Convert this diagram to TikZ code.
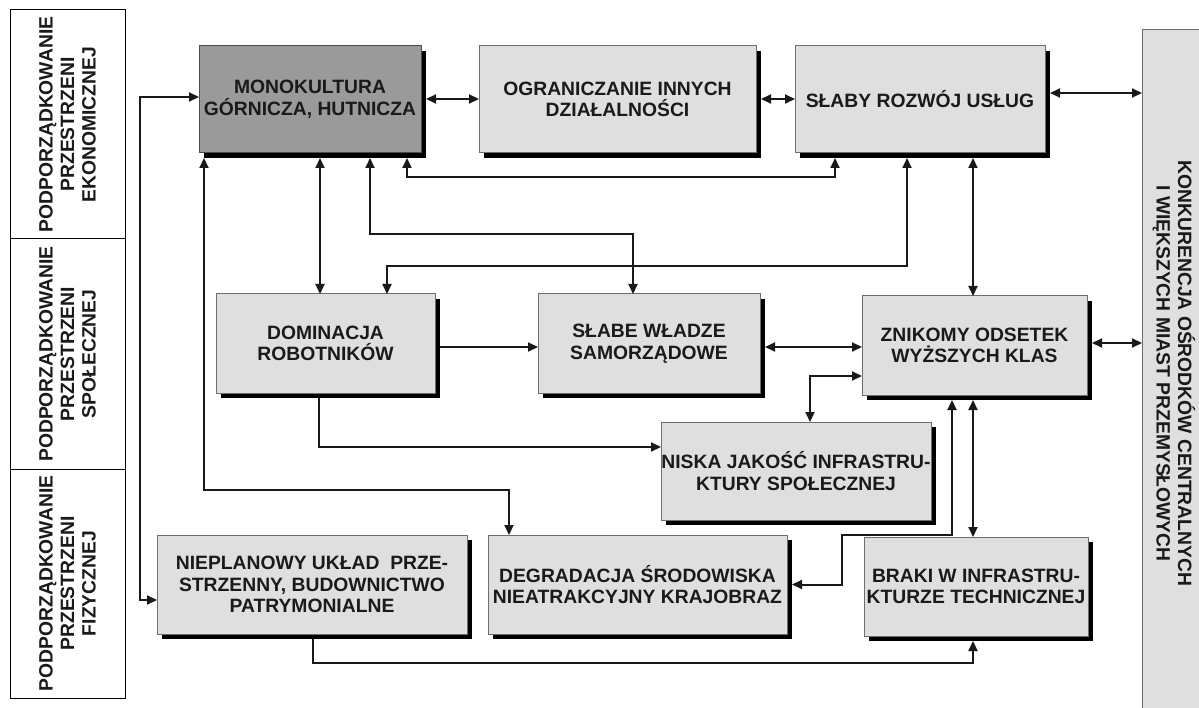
\documentclass[tikz,border=0pt]{standalone}
\usepackage{fontspec}
\setmainfont{Liberation Sans}
\usetikzlibrary{arrows.meta,shadows,calc}
\definecolor{boxgray}{HTML}{DFDFDF}
\definecolor{darkbox}{HTML}{9A9A9A}
\definecolor{edgegray}{HTML}{6E6E6E}
\definecolor{txt}{HTML}{1A1A1A}
\tikzset{
  every node/.style={inner sep=0pt,outer sep=0pt,align=center,text=txt,
    font=\fontsize{19.3}{21.5}\selectfont\bfseries},
  cbox/.style={draw=edgegray,line width=1pt,fill=boxgray,
    drop shadow={shadow xshift=5pt,shadow yshift=-5pt,fill=black,opacity=1}},
  dbox/.style={cbox,fill=darkbox,draw=black!70},
  lbox/.style={draw=black,line width=1pt,fill=white},
  conn/.style={line width=2pt,draw=black!90},
  >={Triangle[length=10pt,width=9pt]}
}
\begin{document}
\begin{tikzpicture}[x=1pt,y=-1pt]
\useasboundingbox (0,0) rectangle (1199,708);
% left column
\node[lbox,minimum width=115pt,minimum height=229pt] (l1) at (67.5,124.5) {};
\node[lbox,minimum width=115pt,minimum height=230pt] (l2) at (67.5,354) {};
\node[lbox,minimum width=115pt,minimum height=229pt] (l3) at (67.5,583.5) {};
\node[rotate=90] (l1t) at (l1.center) {PODPORZĄDKOWANIE\\PRZESTRZENI\\EKONOMICZNEJ};
\node[rotate=90] (l2t) at (l2.center) {PODPORZĄDKOWANIE\\PRZESTRZENI\\SPOŁECZNEJ};
\node[rotate=90] (l3t) at (l3.center) {PODPORZĄDKOWANIE\\PRZESTRZENI\\FIZYCZNEJ};
% right tall box
\node[draw=edgegray,line width=1pt,fill=boxgray,minimum width=62pt,minimum height=684pt] (konk) at (1173,372) {};
\node[rotate=-90] (konkt) at (1174,373.5) {KONKURENCJA OŚRODKÓW CENTRALNYCH\\I WIĘKSZYCH MIAST PRZEMYSŁOWYCH};
% main boxes
\node[dbox,minimum width=222pt,minimum height=107pt] (mono) at (310,99.5) {MONOKULTURA\\GÓRNICZA, HUTNICZA};
\node[cbox,minimum width=277pt,minimum height=107pt] (ogr) at (617.5,99.5) {OGRANICZANIE INNYCH\\DZIAŁALNOŚCI};
\node[cbox,minimum width=250pt,minimum height=107pt] (usl) at (920,99.5) {SŁABY ROZWÓJ USŁUG};
\node[cbox,minimum width=219pt,minimum height=99pt] (domi) at (325.5,343.5) {DOMINACJA\\ROBOTNIKÓW};
\node[cbox,minimum width=222pt,minimum height=99pt] (slabe) at (649,343.5) {SŁABE WŁADZE\\SAMORZĄDOWE};
\node[cbox,minimum width=225pt,minimum height=99pt] (znik) at (974.5,345.5) {ZNIKOMY ODSETEK\\WYŻSZYCH KLAS};
\node[cbox,minimum width=270pt,minimum height=98pt] (nisk) at (796,471) {NISKA JAKOŚĆ INFRASTRU-\\KTURY SPOŁECZNEJ};
\node[cbox,minimum width=310pt,minimum height=99pt] (niep) at (312,584.5) {NIEPLANOWY UKŁAD\ \ PRZE-\\STRZENNY, BUDOWNICTWO\\PATRYMONIALNE};
\node[cbox,minimum width=299pt,minimum height=99pt] (degr) at (637.5,584.5) {DEGRADACJA ŚRODOWISKA\\NIEATRAKCYJNY KRAJOBRAZ};
\node[cbox,minimum width=224pt,minimum height=99pt] (brak) at (976,586.5) {BRAKI W INFRASTRU-\\KTURZE TECHNICZNEJ};
% connectors
\draw[conn,<->] ([yshift=2.5pt]mono.west) -| (140,600) -- ([yshift=-15.5pt]niep.west);
\draw[conn,<->] ([xshift=5pt,yshift=0.5pt]mono.east) -- ([yshift=0.5pt]ogr.west);
\draw[conn,<->] ([xshift=5pt,yshift=0.5pt]ogr.east) -- ([yshift=0.5pt]usl.west);
\coordinate (a4) at ([xshift=5pt,yshift=6.5pt]usl.east);
\draw[conn,<->] (a4) -- (a4 -| konk.west);
\draw[conn,<->] ([xshift=97pt,yshift=-5pt]mono.south) -- ++(0,19) -| ([xshift=-85pt,yshift=-5pt]usl.south);
\draw[conn,<->] ([xshift=60pt,yshift=-5pt]mono.south) -- ++(0,76) -| ([xshift=-16pt]slabe.north);
\draw[conn,<->] ([xshift=10pt,yshift=-5pt]mono.south) -- ([xshift=-5.5pt]domi.north);
\draw[conn,<->] ([xshift=-106pt,yshift=-5pt]mono.south) -- ++(0,332) -| ([xshift=-128.5pt]degr.north);
\draw[conn,<->] ([xshift=-13pt,yshift=-5pt]usl.south) -- ++(0,108) -| ([xshift=61.5pt]domi.north);
\draw[conn,<->] ([xshift=53pt,yshift=-5pt]usl.south) -- ([xshift=-1.5pt]znik.north);
\draw[conn,->] ([xshift=5pt,yshift=-3.5pt]domi.east) -- ([yshift=-3.5pt]slabe.west);
\draw[conn,<->] ([xshift=5pt,yshift=-3.5pt]slabe.east) -- ([yshift=-1.5pt]znik.west);
\coordinate (a13) at ([xshift=5pt,yshift=2.5pt]znik.east);
\draw[conn,<->] (a13) -- (a13 -| konk.west);
\draw[conn,<->] ([xshift=14pt]nisk.north) |- ([yshift=-30.5pt]znik.west);
\draw[conn,->] ([xshift=-6.5pt,yshift=-5pt]domi.south) |- ([yshift=24pt]nisk.west);
\draw[conn,<->] ([xshift=5pt]degr.east) -- ++(50,0) -- ++(0,-50) -| ([xshift=-22.5pt,yshift=-5pt]znik.south);
\draw[conn,<->] ([xshift=-1.5pt,yshift=-5pt]znik.south) -- ([xshift=-3pt]brak.north);
\draw[conn,->] ([xshift=1pt,yshift=-5pt]niep.south) -- ++(0,24) -| ([xshift=-3pt,yshift=-5pt]brak.south);
\end{tikzpicture}
\end{document}
